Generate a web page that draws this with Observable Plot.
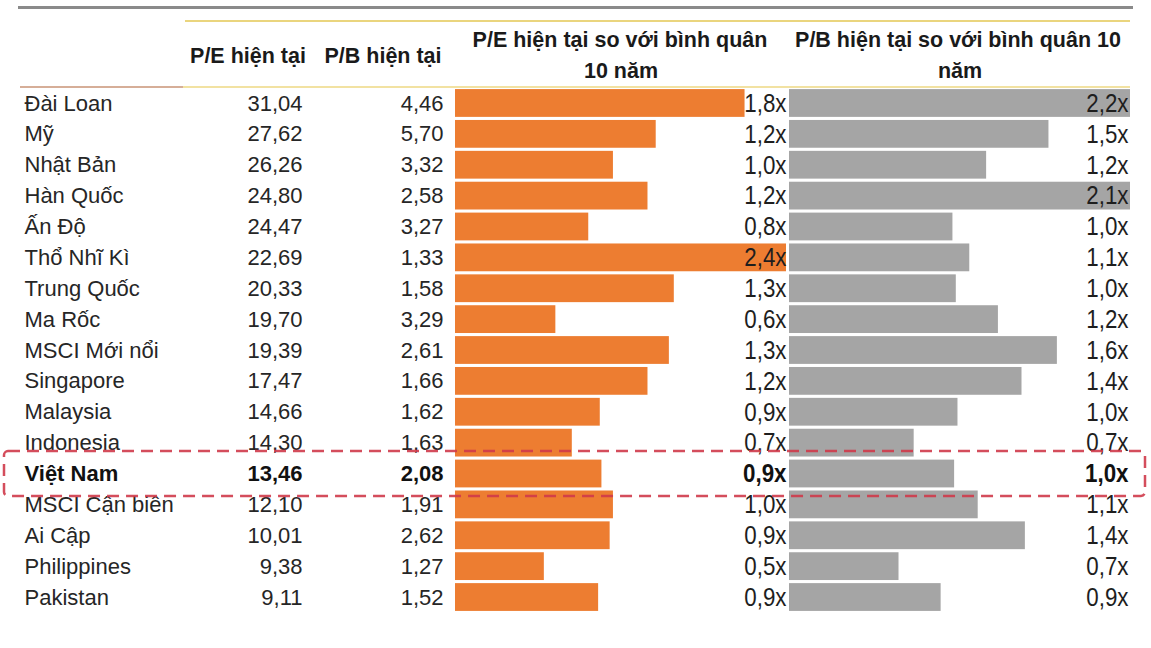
<!DOCTYPE html>
<html><head><meta charset="utf-8">
<script src="https://cdn.jsdelivr.net/npm/d3@7"></script>
<script src="https://cdn.jsdelivr.net/npm/@observablehq/plot@0.6"></script>
<style>
body{margin:0;background:#fff;}
#wrap{position:relative;width:1151px;height:648px;overflow:hidden;background:#fff;font-family:"Liberation Sans",Arial,sans-serif;}
#wrap svg{position:absolute;left:0;top:0;}
.hdr{position:absolute;font-weight:bold;font-size:21.5px;color:#1a1a1a;white-space:nowrap;line-height:1;transform:translate(-50%,-50%);}
.ln{position:absolute;}
</style></head><body><div id="wrap"></div>
<script>
// ---- data ----
const countries = ["Đài Loan","Mỹ","Nhật Bản","Hàn Quốc","Ấn Độ","Thổ Nhĩ Kì","Trung Quốc","Ma Rốc","MSCI Mới nổi","Singapore","Malaysia","Indonesia","Việt Nam","MSCI Cận biên","Ai Cập","Philippines","Pakistan"];
const peCurrent = [31.04,27.62,26.26,24.80,24.47,22.69,20.33,19.70,19.39,17.47,14.66,14.30,13.46,12.10,10.01,9.38,9.11];
const pbCurrent = [4.46,5.70,3.32,2.58,3.27,1.33,1.58,3.29,2.61,1.66,1.62,1.63,2.08,1.91,2.62,1.27,1.52];
const peVsAvg10 = [1.76,1.22,0.96,1.17,0.81,2.40,1.33,0.61,1.30,1.17,0.88,0.71,0.89,0.96,0.94,0.54,0.87];
const pbVsAvg10 = [2.20,1.54,1.17,2.10,0.97,1.07,0.99,1.24,1.59,1.38,1.00,0.74,0.98,1.12,1.40,0.65,0.90];
const highlight = "Việt Nam";
const headerPE = ["P/E hiện tại"];
const headerPB = ["P/B hiện tại"];
const headerPEavg = ["P/E hiện tại so với bình quân", "10 năm"];
const headerPBavg = ["P/B hiện tại so với bình quân 10", "năm"];

// ---- build ----
const rows = countries.map((c, i) => ({country: c, pe: peCurrent[i], pb: pbCurrent[i], pe10: peVsAvg10[i], pb10: pbVsAvg10[i]}));
const num2 = v => v.toFixed(2).replace(".", ",");
const mult = v => v.toFixed(1).replace(".", ",") + "x";
const W = 1151, H = 648;
const yScale = {type: "band", domain: countries, padding: 0.1, round: false, axis: null};
const common = {width: W, height: H, marginTop: 86, marginBottom: 34};
const wrap = document.getElementById("wrap");
const baseStyle = {fontFamily: "'Liberation Sans', Arial, sans-serif", fontSize: "22px", background: "transparent", overflow: "visible"};
const normal = rows.filter(d => d.country !== highlight);
const bold = rows.filter(d => d.country === highlight);

// text table columns
function textColumn(left, right, anchor, textFn) {
  return Plot.plot({
    ...common, marginLeft: left, marginRight: W - right, style: baseStyle,
    y: yScale,
    marks: [
      Plot.text(normal, {y: "country", frameAnchor: anchor, textAnchor: anchor === "left" ? "start" : "end", text: textFn, fill: "#262626"}),
      Plot.text(bold, {y: "country", frameAnchor: anchor, textAnchor: anchor === "left" ? "start" : "end", text: textFn, fill: "#111", fontWeight: "bold"})
    ]
  });
}
const namePlot = textColumn(24, 200, "left", d => d.country);
const pePlot = textColumn(200, 302, "right", d => num2(d.pe));
const pbPlot = textColumn(320, 443, "right", d => num2(d.pb));

const labelStyle = {...baseStyle, fontSize: "26px"};

function barPlot(key, left, right, maxV, color, labelDx) {
  return Plot.plot({
    ...common, marginLeft: left, marginRight: W - right, style: labelStyle,
    x: {domain: [0, maxV], clamp: true, axis: null},
    y: yScale,
    marks: [
      Plot.barX(rows, {x: key, y: "country", fill: color}),
      Plot.text(normal, {y: "country", frameAnchor: "right", textAnchor: "end", dx: labelDx, text: d => mult(d[key]), fill: "#1e1e1e", className: "lbl"}),
      Plot.text(bold, {y: "country", frameAnchor: "right", textAnchor: "end", dx: labelDx, text: d => mult(d[key]), fill: "#111", fontWeight: "bold", className: "lbl"})
    ]
  });
}
const orangePlot = barPlot("pe10", 455, 786, 2.012, "#ED7D31", 0);
const grayPlot = barPlot("pb10", 789, 1130, 2.024, "#A5A5A5", -2);

// condensed look of the value labels (narrow face)
for (const p of [orangePlot, grayPlot]) {
  p.querySelectorAll("g.lbl text").forEach(t => {
    const tr = t.getAttribute("transform") || "";
    t.setAttribute("transform", tr + " scale(0.86,1)");
  });
}

// highlight box
const boxPlot = Plot.plot({
  ...common, marginLeft: 4, marginRight: 6, style: baseStyle,
  y: yScale,
  marks: [
    Plot.cell([highlight], {y: d => d, fill: "none", stroke: "#cf3a4a", strokeWidth: 2.5, strokeDasharray: "12,7", strokeOpacity: 0.9, insetTop: -8.5, insetBottom: -8.5, rx: 4})
  ]
});

// lines
function line(l, t, w, h, c) {
  const d = document.createElement("div");
  d.className = "ln";
  Object.assign(d.style, {left: l + "px", top: t + "px", width: w + "px", height: h + "px", background: c});
  wrap.appendChild(d);
}
line(18, 6, 1115, 2.5, "#8a8a8a");
line(185, 20, 945, 2, "#ead57e");
line(20, 86, 163, 2, "#d6ae98");
line(183, 86, 947, 2, "#f2e2a2");

// headers
function hdr(txt, cx, cy) {
  const d = document.createElement("div");
  d.className = "hdr";
  d.textContent = txt;
  Object.assign(d.style, {left: cx + "px", top: cy + "px"});
  wrap.appendChild(d);
}
hdr(headerPE[0], 248, 57);
hdr(headerPB[0], 383, 57);
hdr(headerPEavg[0], 620, 41);
hdr(headerPEavg[1], 621, 72);
hdr(headerPBavg[0], 958, 41);
hdr(headerPBavg[1], 960, 72);

for (const p of [orangePlot, grayPlot, namePlot, pePlot, pbPlot, boxPlot]) wrap.appendChild(p);
</script></body></html>
